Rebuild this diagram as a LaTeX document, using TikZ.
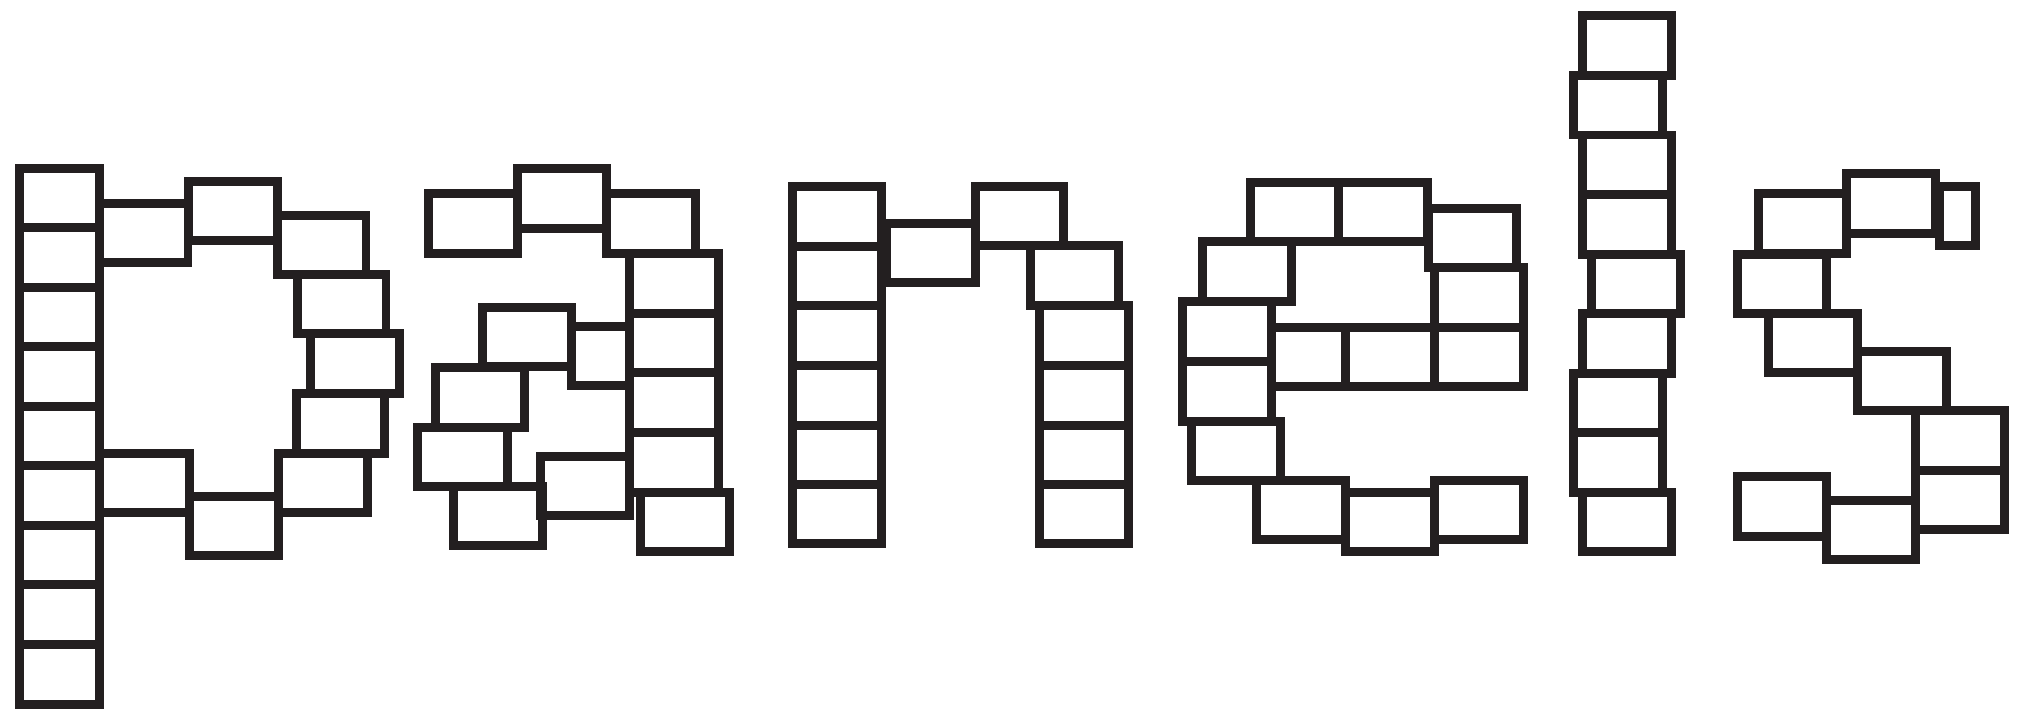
\documentclass[tikz,border=0pt]{standalone}
\usepackage{xcolor}
\usepackage{tikz}
\definecolor{panelink}{HTML}{231F20}

\begin{document}
\begin{tikzpicture}[x=0.01cm, y=-0.01cm, panel/.style={draw=panelink, line width=2.55pt, line join=miter}]
\useasboundingbox (0,0) rectangle (2018,720);

\draw[panel] (19.5,168) rectangle (99.5,227.6);
\draw[panel] (19.5,227.6) rectangle (99.5,287.1);
\draw[panel] (19.5,287.1) rectangle (99.5,346.7);
\draw[panel] (19.5,346.7) rectangle (99.5,406.2);
\draw[panel] (19.5,406.2) rectangle (99.5,465.8);
\draw[panel] (19.5,465.8) rectangle (99.5,525.3);
\draw[panel] (19.5,525.3) rectangle (99.5,584.9);
\draw[panel] (19.5,584.9) rectangle (99.5,644.4);
\draw[panel] (19.5,644.4) rectangle (99.5,704);
\draw[panel] (99.5,203.3) rectangle (188,262.8);
\draw[panel] (188.3,181.2) rectangle (277.2,240.5);
\draw[panel] (277.2,215.2) rectangle (366,274.5);
\draw[panel] (297.7,274.5) rectangle (386,333.8);
\draw[panel] (310.5,333.8) rectangle (399.5,393.5);
\draw[panel] (296.2,393.5) rectangle (384.5,453.5);
\draw[panel] (99.5,453.5) rectangle (189.5,512.8);
\draw[panel] (189.5,496.2) rectangle (278.5,555.2);
\draw[panel] (278.5,453.5) rectangle (367.2,512.8);

\draw[panel] (428.5,193.8) rectangle (517.2,253.2);
\draw[panel] (517.2,168.8) rectangle (606.2,228.5);
\draw[panel] (606.2,193.8) rectangle (695.2,253.2);
\draw[panel] (629.5,253.2) rectangle (718.5,313.2);
\draw[panel] (629.5,313.2) rectangle (718.5,372.8);
\draw[panel] (629.5,372.8) rectangle (718.5,432.5);
\draw[panel] (629.5,432.5) rectangle (718.5,492.2);
\draw[panel] (640.5,492.2) rectangle (729.2,551.2);
\draw[panel] (482.8,307.8) rectangle (571.8,366.8);
\draw[panel] (571.8,326.5) rectangle (629.5,385.2);
\draw[panel] (435.5,367.8) rectangle (524.2,427.2);
\draw[panel] (417.8,427.2) rectangle (507.2,486.5);
\draw[panel] (453.8,486.5) rectangle (542.8,545.8);
\draw[panel] (540.8,456.8) rectangle (629.5,515.8);

\draw[panel] (792.5,186.5) rectangle (881.8,246.2);
\draw[panel] (792.5,246.2) rectangle (881.8,305.8);
\draw[panel] (792.5,305.8) rectangle (881.8,365.4);
\draw[panel] (792.5,365.4) rectangle (881.8,425);
\draw[panel] (792.5,425) rectangle (881.8,484.7);
\draw[panel] (792.5,484.7) rectangle (881.8,543.8);
\draw[panel] (886.2,223.5) rectangle (975.2,282.8);
\draw[panel] (975.2,186.5) rectangle (1063.8,245.5);
\draw[panel] (1030.5,245.5) rectangle (1118.8,305.8);
\draw[panel] (1039.5,305.8) rectangle (1128.5,365.4);
\draw[panel] (1039.5,365.4) rectangle (1128.5,425);
\draw[panel] (1039.5,425) rectangle (1128.5,484.7);
\draw[panel] (1039.5,484.7) rectangle (1128.5,543.8);

\draw[panel] (1250.5,182.5) rectangle (1338.8,241.8);
\draw[panel] (1338.8,182.5) rectangle (1427.8,241.8);
\draw[panel] (1428.5,208.2) rectangle (1516.8,267.8);
\draw[panel] (1202.5,241.8) rectangle (1291.2,301.5);
\draw[panel] (1434.5,267.8) rectangle (1523.2,327.2);
\draw[panel] (1182.5,301.5) rectangle (1271.8,361.2);
\draw[panel] (1182.5,361.2) rectangle (1271.8,421.2);
\draw[panel] (1271.8,327.2) rectangle (1345.5,386.5);
\draw[panel] (1345.5,327.2) rectangle (1434.5,386.5);
\draw[panel] (1434.5,327.2) rectangle (1523.2,386.5);
\draw[panel] (1191.8,421.2) rectangle (1280.5,480.5);
\draw[panel] (1256.5,480.5) rectangle (1345.5,539.8);
\draw[panel] (1345.5,492.5) rectangle (1434.5,551.8);
\draw[panel] (1434.5,480.5) rectangle (1523.2,539.8);

\draw[panel] (1582.8,15.8) rectangle (1671.8,75.1);
\draw[panel] (1573.5,75.1) rectangle (1662.5,135);
\draw[panel] (1582.8,135) rectangle (1671.8,194.3);
\draw[panel] (1582.8,194.3) rectangle (1671.8,254.3);
\draw[panel] (1591.8,254.3) rectangle (1680.8,313.5);
\draw[panel] (1582.8,313.5) rectangle (1671.8,373.1);
\draw[panel] (1573.5,373.1) rectangle (1662.5,432.8);
\draw[panel] (1573.5,432.8) rectangle (1662.5,492.4);
\draw[panel] (1582.8,492.4) rectangle (1671.8,551.3);

\draw[panel] (1758.2,193.8) rectangle (1846.2,253.2);
\draw[panel] (1846.8,173.8) rectangle (1935.2,233.2);
\draw[panel] (1939.2,186.8) rectangle (1975.8,245.8);
\draw[panel] (1737.5,254.2) rectangle (1826.5,313.5);
\draw[panel] (1768.8,313.5) rectangle (1857.5,372.8);
\draw[panel] (1857.5,351.5) rectangle (1946.5,410.8);
\draw[panel] (1915.5,410.8) rectangle (2004.2,470.2);
\draw[panel] (1915.5,470.2) rectangle (2004.2,529.8);
\draw[panel] (1737.5,476.8) rectangle (1826.5,536.2);
\draw[panel] (1826.5,500.2) rectangle (1915.5,559.8);
\end{tikzpicture}
\end{document}
